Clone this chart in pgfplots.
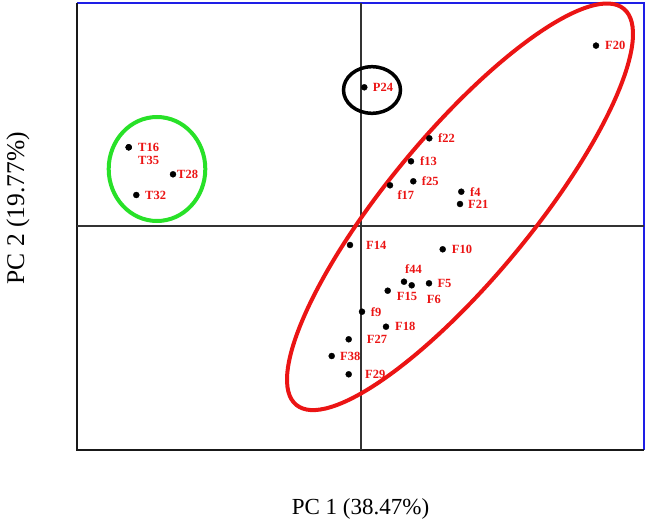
\documentclass[border=0pt]{standalone}
\usepackage{fontspec}
\setmainfont{Liberation Serif}
\usepackage{pgfplots}
\usepackage{pgfplotstable}
\pgfplotsset{compat=1.18}
\definecolor{pcared}{RGB}{235,20,20}
\definecolor{pcagreen}{RGB}{40,225,40}
\definecolor{pcablue}{RGB}{30,30,230}

% PCA scores: x y label, label offset dx dy (pt)
\pgfplotstableread{
x      y      lbl  dx    dy
-2.318  0.790 T16  9.3   0
-2.318  0.790 T35  9.3  -12.7
-1.875  0.520 T28  4     0
-2.242  0.313 T32  8.7   0
 0.038  1.390 P24  8.4   0
 2.355  1.807 F20  9     0
 0.688  0.880 f22  8.7   0
 0.505  0.650 f13  9     0
 0.528  0.450 f25  8.4   0
 0.295  0.410 f17  7.3  -9.7
 1.008  0.346 f4   8.7   0
 0.995  0.223 F21  8     0
-0.105 -0.187 F14  16    0
 0.822 -0.230 F10  9     0
 0.435 -0.554 f44  1     12.4
 0.512 -0.590 F6   15   -13.7
 0.685 -0.570 F5   8.3   0
 0.272 -0.644 F15  9    -6
 0.015 -0.854 f9   8.7   0
 0.255 -1.004 F18  9     0
-0.118 -1.130 F27  18    0
-0.288 -1.297 F38  8.3   0
-0.118 -1.480 F29  16.3  0
}\scores

\begin{document}
\begin{tikzpicture}
\begin{axis}[
  scale only axis,
  width=567pt, height=447pt,
  xmin=-2.835, xmax=2.835,
  ymin=-2.237, ymax=2.233,
  axis line style={draw=none},
  ticks=none,
  clip=false,
  xlabel={PC 1 (38.47\%)},
  ylabel={PC 2 (19.77\%)},
  xlabel style={font=\fontsize{23}{27}\selectfont,
    at={(axis description cs:0.5,-0.1454)}, anchor=base},
  ylabel style={font=\fontsize{25.5}{30}\selectfont,
    at={(axis description cs:-0.104,0.541)}, anchor=center, rotate=0},
]
\coordinate (sw) at (rel axis cs:0,0);
\coordinate (ne) at (rel axis cs:1,1);
% frame
\draw[pcablue, line width=2pt] (rel axis cs:0,1) -- (rel axis cs:1,1) -- (rel axis cs:1,0);
\draw[black!90, line width=2pt] (rel axis cs:0,1) -- (rel axis cs:0,0) -- (rel axis cs:1,0);
% crosshair
\draw[black!80, line width=2pt] (axis cs:0,-2.237) -- (axis cs:0,2.233);
\draw[black!80, line width=2pt] (axis cs:-2.835,0) -- (axis cs:2.835,0);
% group ellipses
\draw[pcared, line width=4pt, rotate around={50.4:(axis cs:0.995,0.195)}]
  (axis cs:0.995,0.195) ellipse [x radius=257pt, y radius=72pt];
\draw[pcagreen, line width=4pt] (axis cs:-2.035,0.573) ellipse [x radius=48.3pt, y radius=52pt];
\draw[black, line width=3.5pt] (axis cs:0.115,1.363) ellipse [x radius=28.5pt, y radius=23.3pt];

\addplot[only marks, mark=*, mark size=3pt, black,
  point meta=explicit symbolic,
  nodes near coords,
  visualization depends on={\thisrow{dx} \as \dx},
  visualization depends on={\thisrow{dy} \as \dy},
  every node near coord/.append style={anchor=west, inner sep=0pt,
    xshift=\dx pt, yshift=\dy pt, text=pcared,
    font=\fontsize{12.5}{15}\selectfont\bfseries},
] table[x=x, y=y, meta=lbl] {\scores};
\end{axis}
\pgfresetboundingbox
\path[use as bounding box] ([shift={(-77pt,-73pt)}]sw) rectangle ([shift={(2pt,3pt)}]ne);
\end{tikzpicture}
\end{document}
